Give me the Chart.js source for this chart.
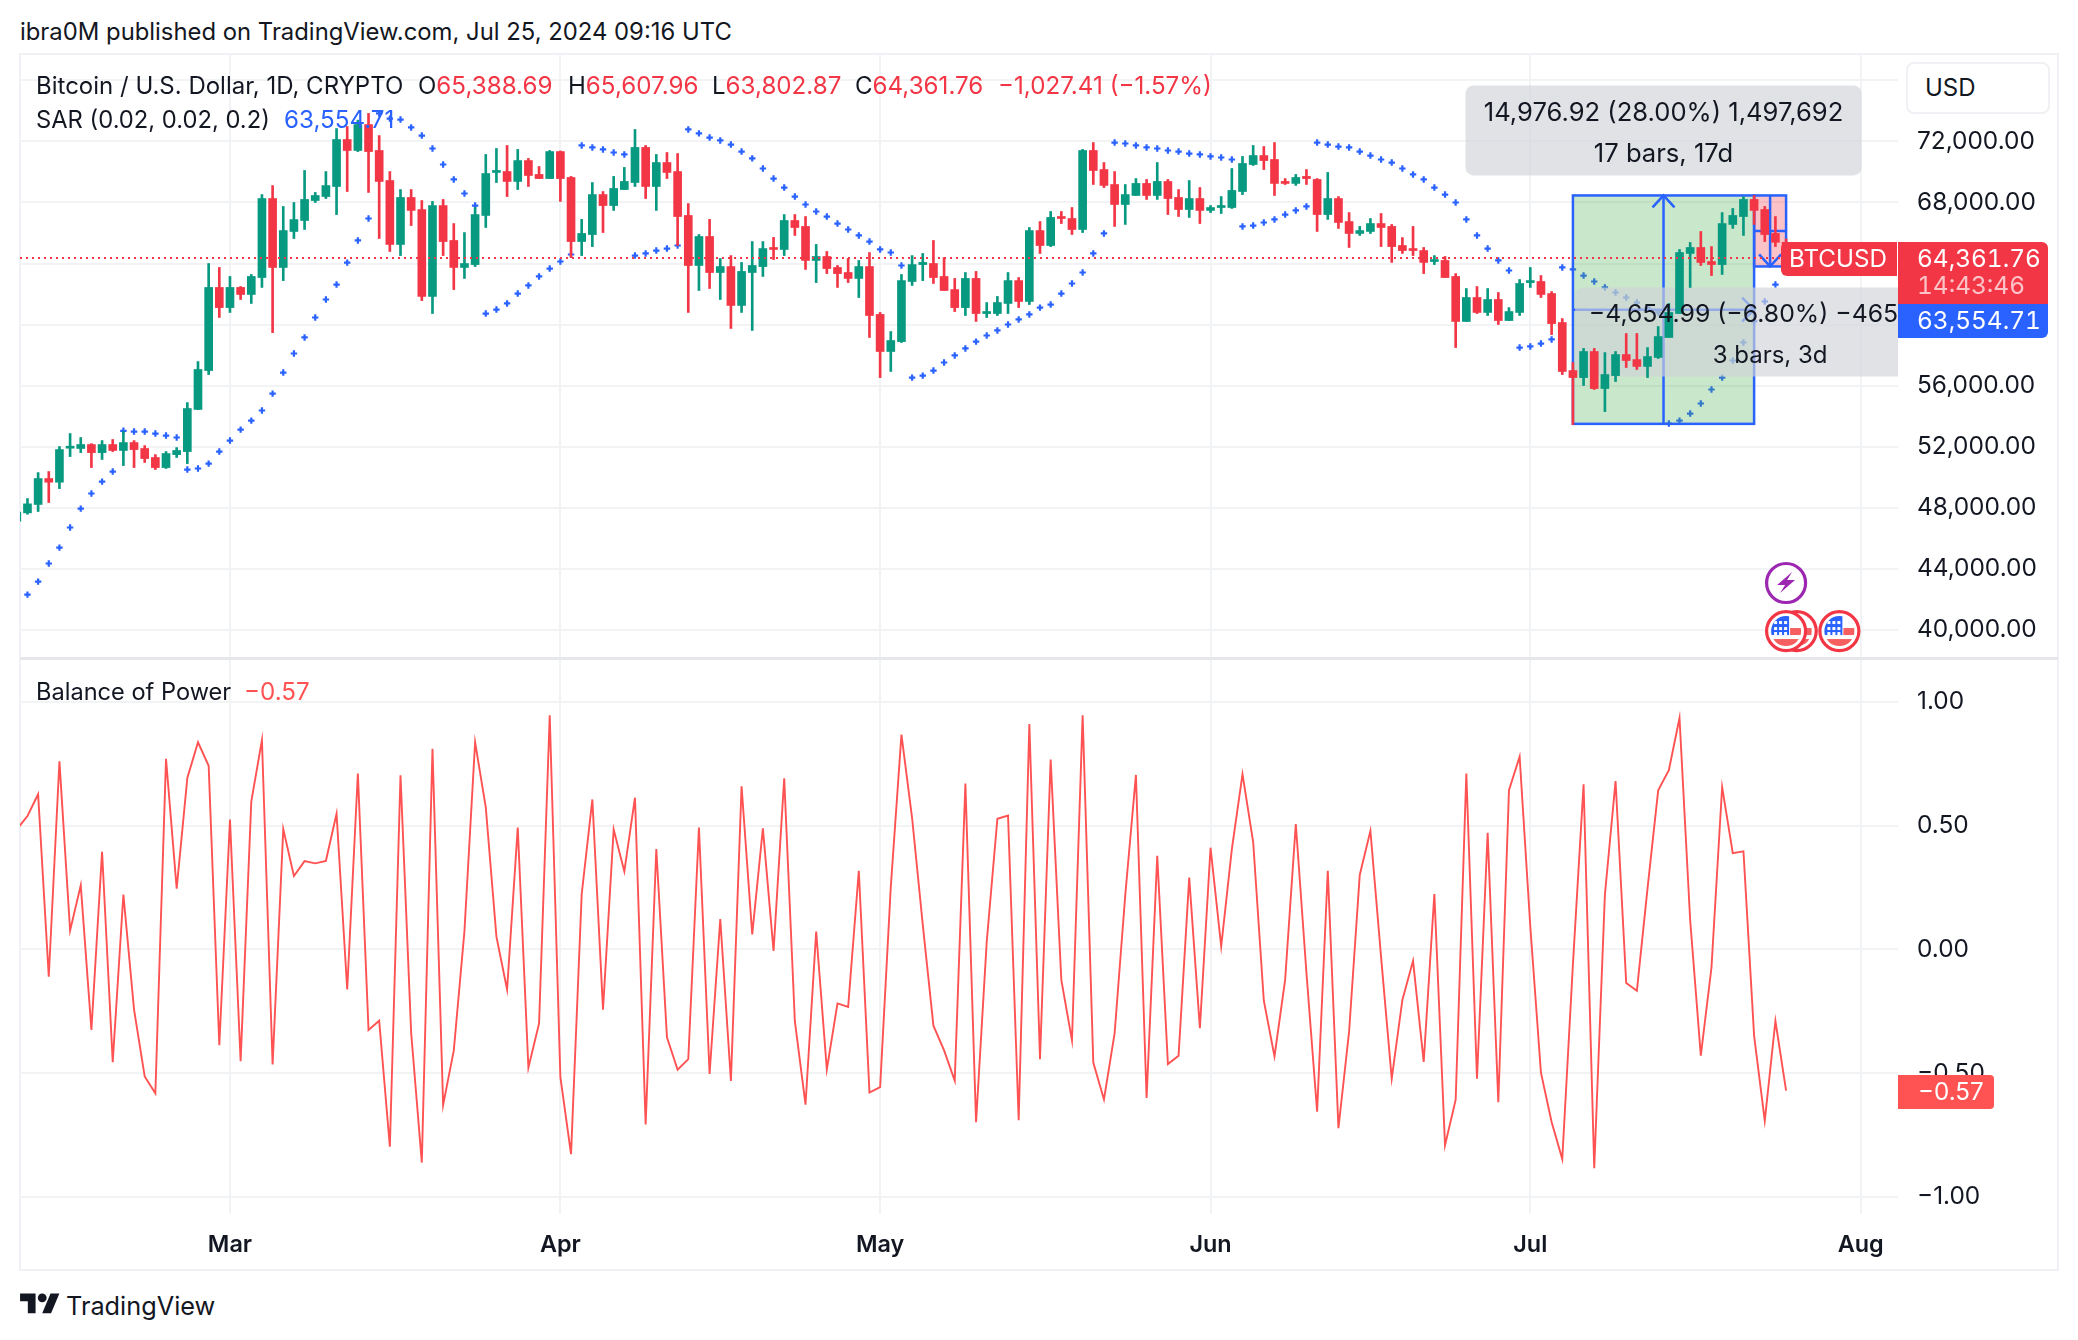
<!DOCTYPE html>
<html>
<head>
<meta charset="utf-8">
<title>BTCUSD 1D</title>
<script src="https://cdn.jsdelivr.net/npm/chart.js@4"></script>
<style>
  html, body { margin: 0; padding: 0; background: #fff; }
  body { position: relative; width: 2078px; height: 1340px; overflow: hidden; font-family: Inter, sans-serif; color: #131722; }
  canvas { position: absolute; }
  .t { position: absolute; white-space: nowrap; transform: translateY(-50%); font-size: 24px; line-height: 1; }
  .n { font-size: 24.2px; }
  .tab { font-size: 24.4px; font-variant-numeric: tabular-nums; }
  .red { color: #f23645; } .blue { color: #2962ff; } .bop { color: #ff5252; }
  .box { position: absolute; color: #fff; }
  #frame { position: absolute; left: 19px; top: 53px; width: 2040px; height: 1218px; box-sizing: border-box; border: 2px solid #f0f1f4; }
  #sep { position: absolute; left: 20px; top: 657px; width: 2038px; height: 3px; background: #e6e7eb; }
  #usd { position: absolute; left: 1906px; top: 62px; width: 144px; height: 52px; box-sizing: border-box; border: 2px solid #f0f1f4; border-radius: 8px; background: #fff; }
</style>
</head>
<body>
<div id="frame"></div>
<canvas id="priceChart" style="left:20px;top:54px"></canvas>
<canvas id="bopChart" style="left:20px;top:658px"></canvas>
<div id="sep"></div>

<div class="t" style="left:20px;top:32px;font-size:23.85px">ibra0M published on TradingView.com, Jul 25, 2024 09:16 UTC</div>
<div class="t" style="left:36px;top:86px">Bitcoin / U.S. Dollar, 1D, CRYPTO</div>
<div class="t" style="left:418px;top:86px">O<span class="red n">65,388.69</span></div>
<div class="t" style="left:568px;top:86px">H<span class="red n">65,607.96</span></div>
<div class="t" style="left:712px;top:86px">L<span class="red n">63,802.87</span></div>
<div class="t" style="left:855px;top:86px">C<span class="red n">64,361.76</span></div>
<div class="t red n" style="left:998px;top:86px">−1,027.41 (−1.57%)</div>
<div class="t" style="left:36px;top:120px;font-size:23.75px">SAR (0.02, 0.02, 0.2)</div>
<div class="t blue n" style="left:284px;top:120px">63,554.71</div>
<div class="t" style="left:36px;top:692px;font-size:23.6px">Balance of Power</div>
<div class="t bop n" style="left:244px;top:692px">−0.57</div>

<div id="usd"></div>
<div class="t" style="left:1925px;top:88px">USD</div>

<div class="box" style="left:1781px;top:242px;width:116px;height:34px;background:#f23645;border-radius:6px 0 0 6px"></div>
<div class="t n" style="left:1789px;top:259px;color:#fff">BTCUSD</div>
<div class="box" style="left:1898px;top:242px;width:150px;height:62px;background:#f23645;border-radius:0 6px 0 0"></div>
<div class="t tab" style="left:1917px;top:258px;color:#fff">64,361.76</div>
<div class="t tab" style="left:1917px;top:285px;color:rgba(255,255,255,.7)">14:43:46</div>
<div class="box" style="left:1898px;top:304px;width:150px;height:34px;background:#2962ff;border-radius:0 0 6px 0"></div>
<div class="t tab" style="left:1917px;top:320px;color:#fff">63,554.71</div>
<div class="box" style="left:1898px;top:1075px;width:96px;height:34px;background:#ff5252;border-radius:0 4px 4px 0"></div>
<div class="t n" style="left:1918px;top:1092px;color:#fff">−0.57</div>

<svg style="position:absolute;left:20px;top:1289px" width="40" height="31" viewBox="0 0 36 28"><path fill="#131722" d="M14 22H7V11H0V4h14v18zM28 22h-8l7.5-18h8L28 22z"/><circle fill="#131722" cx="20" cy="8" r="4"/></svg>
<div class="t" style="left:66px;top:1306px;font-size:25.3px">TradingView</div>

<script>
// Days are counted from Mar 1 2024, first bar is Feb 10
const firstDay = -20;

const opens = [
  47100,47650,48200,49900,49660,51890,51870,52130,51600,52130,
  51740,52260,51870,51280,50620,51470,51670,54430,56980,62430,
  61110,62430,61970,63080,68260,63740,66100,66820,68130,68390,
  69050,72130,71410,73110,71410,69440,65250,68330,67540,61840,
  67800,65510,63740,63930,67150,69970,70030,69380,70750,69840,
  69570,71340,69640,65440,65900,68520,67800,68850,69310,71610,
  69050,70620,70030,67150,63870,65770,63410,63800,61250,63410,
  63800,65050,64920,66820,66430,64200,64460,63740,63410,63020,
  63800,60660,58230,58880,62820,63930,64000,63150,62290,61110,
  63020,60720,60720,61380,62880,61510,66160,65180,67080,66950,
  66230,71410,70160,69180,67870,68460,69250,68460,69380,68330,
  67540,68260,67480,67670,67670,68720,70490,71080,70820,69380,
  69250,69710,69510,67210,68260,66750,65970,66100,66620,66430,
  65180,64980,64850,64130,64200,63150,60200,61770,60790,61640,
  60260,60790,62750,62820,62030,60130,56980,56520,58230,55800,
  56650,58030,57700,57250,57840,59150,60720,64660,65050,64130,
  63930,66560,67080,68200,67540,65970,65388.69
];
const highs = [
  47800,48590,50290,50360,52000,52850,52590,52190,52390,52460,
  52980,52390,52060,51470,51670,51930,54880,57570,64000,63740,
  63150,62490,63280,68520,69110,67740,68000,70100,68660,70030,
  72850,72980,73400,73840,72390,70030,68850,68850,68130,68070,
  68200,66620,66030,67670,71150,71540,71740,71480,70890,70360,
  71410,71380,69710,66890,69310,68720,69710,70300,72790,71740,
  71150,71280,71210,67930,65900,66890,64330,64520,64070,65440,
  65440,65710,67210,67210,67080,65250,64790,63870,64330,64200,
  64720,60790,59540,63280,64520,64660,65510,64390,63020,63410,
  63480,61440,61840,63410,63080,66360,66750,67410,67410,67670,
  71480,71930,70620,70030,69180,69570,69510,70620,69510,68850,
  69440,68980,67800,68390,70230,71020,71740,71670,71930,69570,
  69840,70160,69570,69970,68390,67340,66430,66950,67280,66560,
  65700,66430,65050,64520,64460,63340,62360,62490,62360,62100,
  61110,62950,63740,63210,62160,60390,57510,58430,58430,58160,
  58230,59410,59410,58490,59870,61380,64920,65380,66100,65110,
  67340,67610,68390,68460,67740,67080,65607.96
];
const lows = [
  47100,47560,47740,48330,49240,51340,51600,50620,51150,51670,
  50750,50620,50950,50490,50560,51280,50880,54420,56720,60460,
  60790,61640,61380,62430,59470,62880,65640,66230,68000,68260,
  67210,68720,71340,68660,65640,64790,64520,66490,61570,60720,
  64520,62290,63020,63800,66360,69310,68390,68850,69050,69570,
  69570,68070,64390,64520,65110,66030,67480,68850,69050,68260,
  67480,69570,65180,60790,62230,62360,61640,59740,60790,59610,
  63150,64260,64520,65840,63610,62750,63340,62430,62750,61770,
  59150,56520,56920,58820,62560,62880,62690,62230,60850,60590,
  60200,60460,60590,60720,61110,61310,64660,65110,66620,65900,
  66030,69180,68980,66430,66560,68460,68200,68200,67210,67080,
  67020,66620,67340,67280,67610,68520,70430,70160,68460,69180,
  69120,69180,66100,66890,66300,65050,65840,65970,65110,64070,
  64660,64520,63340,63930,63080,58490,60200,60720,60590,60000,
  60260,60590,62430,61770,59340,56720,53440,56000,55740,54290,
  56260,57180,57050,56520,57770,59150,60720,62430,63870,63210,
  63280,66300,65840,66560,65440,65110,63802.87
];
const closes = [
  47700,48240,49900,49660,51800,52000,52130,51600,52130,51740,
  52260,51800,51210,50620,51540,51740,54490,57050,62430,61110,
  62430,61970,63150,68260,63740,66160,66880,68200,68460,69110,
  72130,71410,73110,71340,69380,65250,68330,67480,61840,67800,
  65440,63740,64000,67210,69900,70100,69380,70750,69770,69570,
  71340,69570,65440,65970,68520,67800,68920,69380,71610,69050,
  70620,69970,67080,63870,65770,63410,63800,61250,63480,63870,
  64980,64920,66820,66360,64200,64460,63670,63340,63020,63800,
  60590,58230,58950,62880,63930,64070,63080,62230,61110,63020,
  60720,60850,61440,62880,61510,66160,65180,67020,66950,66230,
  71410,70100,69120,67870,68520,69250,68460,69380,68260,67540,
  68260,67480,67670,67800,68790,70560,71080,70750,69250,69250,
  69640,69570,67210,68260,66690,65970,66160,66620,66360,65110,
  64850,64850,64070,64260,63080,60200,61770,60790,61640,60260,
  60850,62690,62880,61970,60060,56920,56520,58230,55800,56720,
  58030,57640,57250,57900,59210,60790,64720,65050,64070,63930,
  66620,67150,68200,67480,65900,65390,64361.76
];
const sarValues = [
  null,42290,43140,44330,45370,46690,47930,48920,49700,50360,
  53030,52980,52980,52850,52720,52590,50490,50560,50880,51670,
  52390,53110,53700,54360,55470,56850,58100,59150,60460,61640,
  62620,64060,65510,66950,73840,73500,73440,72920,72390,71540,
  70490,69510,68590,67800,60720,60980,61380,62030,62560,63150,
  63670,64130,64590,71740,71610,71480,71280,71150,64520,64660,
  64850,64980,65180,72790,72530,72260,72070,71800,71340,70890,
  70230,69570,68980,68390,67870,67410,67080,66620,66230,65840,
  65440,64920,64720,63870,56520,56650,56980,57510,57970,58430,
  58880,59280,59610,60000,60330,60660,61110,61310,62030,62690,
  63410,64660,65970,71930,71870,71740,71610,71540,71410,71340,
  71210,71150,71020,70950,70820,66430,66490,66690,66890,67210,
  67480,67740,71930,71800,71670,71610,71340,71080,70820,70620,
  70230,69840,69510,68980,68520,68000,66890,65840,64980,64200,
  63540,58490,58560,58750,59020,63740,63610,63210,62820,62430,
  62100,61770,61440,61110,60790,53510,53700,54160,54820,55740,
  56520,57640,58820,60200,61510,62620,63554.71
];
const bopValues = [
  0.485,0.539,0.627,-0.11,0.76,0.076,0.259,-0.325,0.395,-0.455,
  0.222,-0.243,-0.513,-0.581,0.77,0.246,0.693,0.837,0.742,-0.387,
  0.525,-0.451,0.597,0.846,-0.465,0.486,0.297,0.357,0.348,0.358,
  0.548,-0.162,0.711,-0.325,-0.288,-0.797,0.704,-0.337,-0.861,0.811,
  -0.628,-0.408,0.074,0.837,0.574,0.052,-0.162,0.492,-0.478,-0.299,
  0.946,-0.516,-0.827,0.223,0.606,-0.243,0.485,0.315,0.613,-0.707,
  0.406,-0.355,-0.486,-0.443,0.492,-0.503,0.123,-0.531,0.659,0.061,
  0.489,-0.006,0.691,-0.29,-0.627,0.072,-0.485,-0.218,-0.232,0.318,
  -0.578,-0.556,0.252,0.868,0.531,0.1,-0.308,-0.408,-0.53,0.67,
  -0.698,0.03,0.528,0.541,-0.69,0.911,-0.443,0.767,-0.123,-0.367,
  0.946,-0.457,-0.606,-0.339,0.22,0.705,-0.6,0.378,-0.463,-0.429,
  0.29,-0.318,0.411,0.012,0.405,0.708,0.434,-0.207,-0.432,-0.123,
  0.507,-0.095,-0.655,0.318,-0.722,-0.332,0.301,0.479,-0.03,-0.522,
  -0.204,-0.046,-0.454,0.224,-0.791,-0.607,0.711,-0.522,0.471,-0.617,
  0.643,0.779,0.094,-0.498,-0.697,-0.847,-0.06,0.667,-0.884,0.221,
  0.68,-0.136,-0.167,0.247,0.643,0.724,0.935,0.119,-0.429,-0.073,
  0.656,0.389,0.396,-0.349,-0.692,-0.289,-0.57
];

const monthDays = [0, 31, 61, 92, 122, 153];
const monthLabels = ['Mar', 'Apr', 'May', 'Jun', 'Jul', 'Aug'];
const priceTicks = [40000, 44000, 48000, 52000, 56000, 60000, 64000, 68000, 72000, 76000];
const bopTicks = [-1, -0.5, 0, 0.5, 1];
const lastClose = 64361.76;

// Date and price range drawings: [first day, last day, low, high]
const upRange = [126, 143, 53485, 68462];
const downRange = [143, 146, 63807, 68462];
const upText = ['14,976.92 (28.00%) 1,497,692', '17 bars, 17d'];
const downText = ['−4,654.99 (−6.80%) −465,499', '3 bars, 3d'];

// Event markers: [day, price]
const flagEvents = [[147, 39900], [146, 39900], [151, 39900]];
const boltEvent = [146, 43050];

const GREEN = '#089981', RED = '#f23645', BLUE = '#2962ff', GRID = '#f2f3f5', TEXT = '#131722';
const FONT = 'Inter, sans-serif';

const days = opens.map((_, i) => firstDay + i);
const barColors = opens.map((o, i) => closes[i] >= o ? GREEN : RED);
const xMin = -19.7, xMax = 156.5;

function xScale(showLabels) {
  return {
    type: 'linear', position: 'bottom', min: xMin, max: xMax, offset: false,
    grid: { color: GRID, lineWidth: 2, drawTicks: false, offset: false },
    border: { display: false },
    afterBuildTicks: s => { s.ticks = monthDays.map(v => ({ value: v })); },
    afterFit: s => { s.height = showLabels ? 56 : 0; s.paddingLeft = 0; s.paddingRight = 0; },
    ticks: {
      display: showLabels, autoSkip: false, maxRotation: 0, padding: 17, color: TEXT,
      font: { family: FONT, size: 23.4, weight: '600' },
      callback: v => monthLabels[monthDays.indexOf(v)]
    }
  };
}

function yScale(min, max, tickValues, format) {
  return {
    position: 'right', min, max,
    grid: { color: GRID, lineWidth: 2, drawTicks: false },
    border: { display: false },
    afterBuildTicks: s => { s.ticks = tickValues.map(v => ({ value: v })); },
    // keep the pane area exact, labels would otherwise pad it
    afterFit: s => { s.width = 160; s.paddingTop = 0; s.paddingBottom = 0; },
    ticks: { crossAlign: 'near', padding: 19, color: TEXT, font: { family: FONT, size: 24.4 }, callback: format }
  };
}

function drawBubble(ctx, x, y, w, h) {
  ctx.fillStyle = 'rgba(208,210,216,.65)';
  ctx.beginPath();
  ctx.roundRect(x, y, w, h, 8);
  ctx.fill();
}

function drawRange(ctx, xs, ys, range, fill) {
  const left = xs.getPixelForValue(range[0]), right = xs.getPixelForValue(range[1]);
  const low = ys.getPixelForValue(range[2]), high = ys.getPixelForValue(range[3]);
  const cx = (left + right) / 2, cy = (low + high) / 2;
  ctx.fillStyle = fill;
  ctx.fillRect(left, high, right - left, low - high);
  ctx.strokeStyle = BLUE;
  ctx.lineWidth = 2.5;
  ctx.strokeRect(left, high, right - left, low - high);
  ctx.beginPath();
  ctx.moveTo(cx, high); ctx.lineTo(cx, low);
  ctx.moveTo(left, cy); ctx.lineTo(right, cy);
  ctx.stroke();
  return { left, right, low, high, cx, cy };
}

function drawFlag(ctx, x, y) {
  ctx.save();
  ctx.beginPath(); ctx.arc(x, y, 19.5, 0, Math.PI * 2);
  ctx.fillStyle = '#fff'; ctx.fill();
  ctx.strokeStyle = RED; ctx.lineWidth = 3.2; ctx.stroke();
  ctx.beginPath(); ctx.arc(x, y, 15, 0, Math.PI * 2); ctx.clip();
  ctx.fillStyle = '#fff'; ctx.fillRect(x - 16, y - 16, 32, 32);
  ctx.fillStyle = '#f55f5f';
  ctx.fillRect(x + 4, y - 3, 14, 7);
  ctx.fillRect(x - 16, y + 8, 32, 8);
  ctx.fillStyle = '#2962ff';
  ctx.fillRect(x - 16, y - 16, 19, 20);
  ctx.fillStyle = '#fff';
  [-12, -7, -2].forEach(dx => [-10, -4, 1].forEach(dy => ctx.fillRect(x + dx, y + dy, 3, 3)));
  ctx.restore();
}

function drawBolt(ctx, x, y) {
  ctx.beginPath(); ctx.arc(x, y, 19.5, 0, Math.PI * 2);
  ctx.fillStyle = '#fff'; ctx.fill();
  ctx.strokeStyle = '#9c27b0'; ctx.lineWidth = 3.2; ctx.stroke();
  ctx.fillStyle = '#9c27b0';
  ctx.beginPath();
  ctx.moveTo(x + 6, y - 11); ctx.lineTo(x - 9, y + 2); ctx.lineTo(x - 1, y + 2);
  ctx.lineTo(x - 6, y + 10); ctx.lineTo(x + 9, y - 3); ctx.lineTo(x + 1, y - 3);
  ctx.closePath(); ctx.fill();
}

// Drawing tools sit over the SAR dots but under the candles
const toolsPlugin = {
  id: 'tools',
  beforeDatasetDraw(chart, args) {
    if (args.index !== 1) return;
    const { ctx, chartArea } = chart;
    const xs = chart.scales.x, ys = chart.scales.y;
    ctx.save();
    ctx.beginPath();
    ctx.rect(chartArea.left, chartArea.top, chartArea.width, chartArea.height);
    ctx.clip();
    const up = drawRange(ctx, xs, ys, upRange, 'rgba(76,175,80,.3)');
    const down = drawRange(ctx, xs, ys, downRange, 'rgba(242,54,69,.3)');
    ctx.lineWidth = 2.5;
    ctx.beginPath();
    ctx.moveTo(up.cx - 11, up.high + 12); ctx.lineTo(up.cx, up.high); ctx.lineTo(up.cx + 11, up.high + 12);
    ctx.moveTo(up.right - 12, up.cy - 12); ctx.lineTo(up.right, up.cy); ctx.lineTo(up.right - 12, up.cy + 12);
    ctx.moveTo(down.cx - 11, down.low - 12); ctx.lineTo(down.cx, down.low); ctx.lineTo(down.cx + 11, down.low - 12);
    ctx.stroke();
    drawBubble(ctx, up.cx - 198, up.high - 110, 396, 90);
    drawBubble(ctx, down.cx - 195, down.low + 21, 390, 89);
    ctx.restore();
  },
  afterDatasetsDraw(chart) {
    const { ctx, chartArea } = chart;
    const xs = chart.scales.x, ys = chart.scales.y;
    const y = ys.getPixelForValue(lastClose);
    ctx.save();
    ctx.beginPath();
    ctx.rect(chartArea.left, chartArea.top, chartArea.width, chartArea.height);
    ctx.clip();
    // last price line
    ctx.strokeStyle = RED;
    ctx.lineWidth = 2;
    ctx.setLineDash([2, 4]);
    ctx.beginPath(); ctx.moveTo(chartArea.left, y); ctx.lineTo(chartArea.right, y); ctx.stroke();
    ctx.setLineDash([]);
    // range texts
    ctx.fillStyle = TEXT;
    ctx.font = '25.6px ' + FONT;
    ctx.textAlign = 'center';
    ctx.textBaseline = 'middle';
    const upX = (xs.getPixelForValue(upRange[0]) + xs.getPixelForValue(upRange[1])) / 2;
    const upTop = ys.getPixelForValue(upRange[3]);
    ctx.fillText(upText[0], upX, upTop - 82);
    ctx.fillText(upText[1], upX, upTop - 41);
    const downX = (xs.getPixelForValue(downRange[0]) + xs.getPixelForValue(downRange[1])) / 2;
    const downLow = ys.getPixelForValue(downRange[2]);
    ctx.font = '24.8px ' + FONT;
    ctx.fillText(downText[0], downX, downLow + 48);
    ctx.font = '24px ' + FONT;
    ctx.fillText(downText[1], downX, downLow + 89);
    // event markers
    flagEvents.forEach(e => drawFlag(ctx, xs.getPixelForValue(e[0]), ys.getPixelForValue(e[1])));
    drawBolt(ctx, xs.getPixelForValue(boltEvent[0]), ys.getPixelForValue(boltEvent[1]));
    ctx.restore();
  }
};

function sizeCanvas(id, w, h) {
  const c = document.getElementById(id);
  c.width = w; c.height = h;
  c.style.width = w + 'px'; c.style.height = h + 'px';
  return c;
}

function createPriceChart() {
  new Chart(sizeCanvas('priceChart', 2038, 604), {
    type: 'bar',
    data: {
      datasets: [
        {
          label: 'Body', data: days.map((d, i) => ({ x: d, y: [opens[i], closes[i]] })),
          backgroundColor: barColors, barThickness: 8, minBarLength: 2, grouped: false, borderWidth: 0
        },
        {
          label: 'Wick', data: days.map((d, i) => ({ x: d, y: [lows[i], highs[i]] })),
          backgroundColor: barColors, barThickness: 2, grouped: false, borderWidth: 0
        },
        {
          type: 'line', label: 'SAR', data: days.map((d, i) => ({ x: d, y: sarValues[i] })),
          showLine: false, pointStyle: 'cross', pointRadius: 3.2, pointBorderWidth: 2.2,
          pointBorderColor: BLUE, pointBackgroundColor: BLUE
        }
      ]
    },
    options: {
      responsive: false, animation: false, devicePixelRatio: 1,
      layout: { padding: 0, autoPadding: false },
      plugins: { legend: { display: false }, tooltip: { enabled: false } },
      scales: {
        x: xScale(false),
        y: yScale(38133, 77737, priceTicks, v => v.toLocaleString('en-US', { minimumFractionDigits: 2 }))
      }
    },
    plugins: [toolsPlugin]
  });
}

function createBopChart() {
  new Chart(sizeCanvas('bopChart', 2038, 612), {
    type: 'line',
    data: {
      datasets: [{
        label: 'Balance of Power', data: days.map((d, i) => ({ x: d, y: bopValues[i] })),
        borderColor: '#ff5252', borderWidth: 1.9, pointRadius: 0, tension: 0
      }]
    },
    options: {
      responsive: false, animation: false, devicePixelRatio: 1,
      layout: { padding: 0, autoPadding: false },
      plugins: { legend: { display: false }, tooltip: { enabled: false } },
      scales: {
        x: xScale(true),
        y: yScale(-1.0687, 1.1774, bopTicks, v => v.toFixed(2).replace('-', '−'))
      }
    }
  });
}

createPriceChart();
createBopChart();
</script>
</body>
</html>
